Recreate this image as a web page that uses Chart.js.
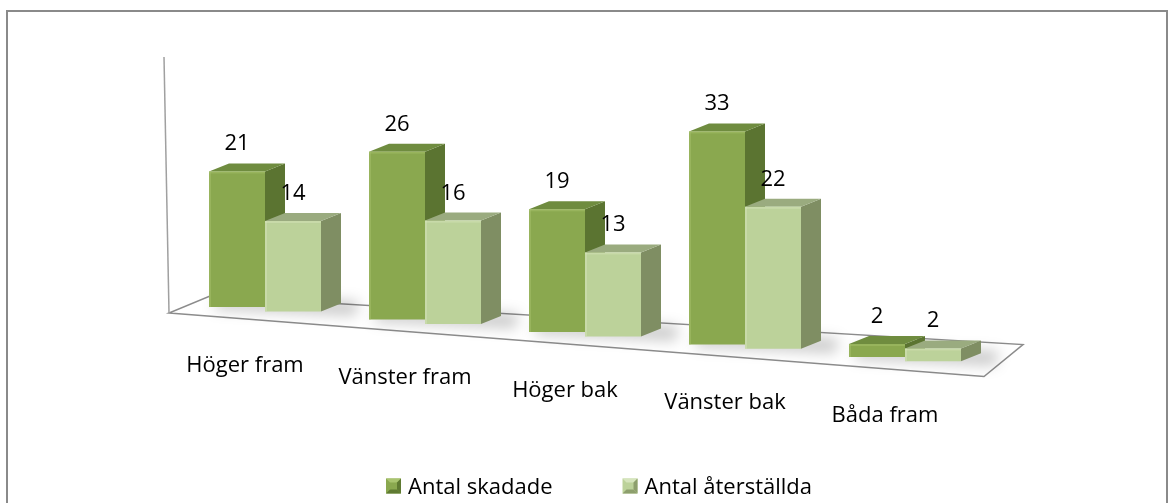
<!DOCTYPE html>
<html>
<head>
<meta charset="utf-8">
<script src="https://cdn.jsdelivr.net/npm/chart.js@4/dist/chart.umd.min.js"></script>
<style>
  html, body { margin: 0; padding: 0; background: #ffffff; }
  #wrap { position: relative; width: 1171px; height: 503px; overflow: hidden; }
</style>
</head>
<body>
<div id="wrap"><canvas id="c" width="1171" height="503"></canvas></div>
<script>
// ---- data ----
const categories = ['Höger fram', 'Vänster fram', 'Höger bak', 'Vänster bak', 'Båda fram'];
const antalSkadade = [21, 26, 19, 33, 2];
const antalAterstallda = [14, 16, 13, 22, 2];
const seriesNames = ['Antal skadade', 'Antal återställda'];
const yMax = 35;

// ---- style ----
const FONT = '"Open Sans", sans-serif';
const TEXT_SIZE = 22;
const K = 0.078;                 // perspective drop of the floor (px per px)
const DEPTH = { dx: 20, dy: -8 }; // 3D depth of each column
const palette = [
  { front: '#8aa84f', side: '#5b7431', top: '#6f8c3f', light: '#a9c46f', dark: '#5f7a32' },
  { front: '#bcd29a', side: '#7f8e63', top: '#9aab7f', light: '#d6e5bd', dark: '#8d9f6d' }
];

function poly(ctx, pts, fill) {
  ctx.beginPath();
  ctx.moveTo(pts[0][0], pts[0][1]);
  for (let i = 1; i < pts.length; i++) ctx.lineTo(pts[i][0], pts[i][1]);
  ctx.closePath();
  ctx.fillStyle = fill;
  ctx.fill();
}

const pseudo3d = {
  id: 'pseudo3d',
  beforeDatasetsDraw(chart) {
    const ctx = chart.ctx, ca = chart.chartArea;
    const L = ca.left, B = ca.bottom;
    ctx.save();
    // outer frame
    ctx.strokeStyle = '#8a8a8a';
    ctx.lineWidth = 2;
    ctx.strokeRect(7, 11, 1160, 520);

    // floor
    const fl = [L - 16, B + 10];
    const fr = [ca.right - 1, B + 10 + K * (ca.right - 1 - (L - 16))];
    const bl = [fl[0] + 41, fl[1] - 17];
    const br = [fr[0] + 39, fr[1] - 32];
    ctx.beginPath();
    ctx.moveTo(fl[0], fl[1]); ctx.lineTo(fr[0], fr[1]);
    ctx.lineTo(br[0], br[1]); ctx.lineTo(bl[0], bl[1]); ctx.closePath();
    ctx.fillStyle = '#ffffff'; ctx.fill();
    ctx.strokeStyle = '#8c8c8c'; ctx.lineWidth = 1.5; ctx.stroke();
    // wall edge
    ctx.beginPath();
    ctx.moveTo(fl[0] - 5, ca.top - 20);
    ctx.lineTo(fl[0], fl[1]);
    ctx.strokeStyle = '#a0a0a0'; ctx.lineWidth = 1.5; ctx.stroke();

    const metas = chart.getSortedVisibleDatasetMetas();
    // floor shadows
    ctx.save();
    ctx.filter = 'blur(7px)';
    for (let i = 0; i < categories.length; i++) {
      const a = metas[0].data[i].getProps(['x', 'base', 'width'], true);
      const b = metas[metas.length - 1].data[i].getProps(['x', 'base', 'width'], true);
      const x0 = a.x - a.width / 2, x1 = b.x + b.width / 2 + DEPTH.dx;
      const ya = a.base + K * (a.x - L), yb = b.base + K * (b.x - L);
      poly(ctx, [[x0 + 4, ya + 2], [x1 + 14, yb + 4], [x1 + 18, yb + DEPTH.dy - 2], [x0 + 10, ya + DEPTH.dy - 2]], 'rgba(0,0,0,0.22)');
    }
    ctx.restore();

    // columns
    for (let i = 0; i < categories.length; i++) {
      metas.forEach((meta, d) => {
        const el = meta.data[i];
        const p = el.getProps(['x', 'y', 'base', 'width'], true);
        const dy = K * (p.x - L);
        const x0 = p.x - p.width / 2, x1 = p.x + p.width / 2;
        const top = p.y + dy, bot = p.base + dy;
        const c = palette[d];
        poly(ctx, [[x1, top], [x1 + DEPTH.dx, top + DEPTH.dy], [x1 + DEPTH.dx, bot + DEPTH.dy], [x1, bot]], c.side);
        poly(ctx, [[x0, top], [x0 + DEPTH.dx, top + DEPTH.dy], [x1 + DEPTH.dx, top + DEPTH.dy], [x1, top]], c.top);
        ctx.save();
        ctx.translate(0, dy);
        el.draw(ctx, ca);
        ctx.restore();
        // soft bevel highlights
        ctx.fillStyle = c.light;
        ctx.globalAlpha = 0.45;
        ctx.fillRect(x0, top, 2, bot - top);
        ctx.fillRect(x0, top, x1 - x0, 2);
        ctx.globalAlpha = 1;
      });
    }
    ctx.restore();
    return false;
  },
  afterDraw(chart) {
    const ctx = chart.ctx, ca = chart.chartArea;
    const L = ca.left;
    const metas = chart.getSortedVisibleDatasetMetas();
    ctx.save();
    ctx.fillStyle = '#000000';
    ctx.font = TEXT_SIZE + 'px ' + FONT;
    ctx.textBaseline = 'alphabetic';
    ctx.textAlign = 'center';
    // value labels
    metas.forEach((meta) => {
      const values = chart.data.datasets[meta.index].data;
      meta.data.forEach((el, i) => {
        const p = el.getProps(['x', 'y'], true);
        const dy = K * (p.x - L);
        ctx.fillText(String(values[i]), p.x, p.y + dy - 21);
      });
    });
    // category labels
    const xs = chart.scales.x;
    categories.forEach((cat, i) => {
      const cx = xs.getPixelForValue(i) - 20;
      ctx.fillText(cat, cx, ca.bottom + K * (cx - L) + 64);
    });
    // legend
    ctx.textAlign = 'left';
    const box = 15, gap = 7, itemGap = 70;
    const w = seriesNames.map(s => ctx.measureText(s).width);
    const total = w.reduce((s, v) => s + v, 0) + seriesNames.length * (box + gap) + itemGap * (seriesNames.length - 1);
    let x = 599 - total / 2;
    const yc = 486;
    seriesNames.forEach((name, d) => {
      const c = palette[d];
      const bx = x, by = yc - box / 2;
      poly(ctx, [[bx, by], [bx + box, by], [bx + box, by + box], [bx, by + box]], c.front);
      poly(ctx, [[bx, by], [bx + box, by], [bx + box / 2, by + box / 2]], c.light);
      poly(ctx, [[bx + box, by], [bx + box, by + box], [bx + box / 2, by + box / 2]], c.dark);
      poly(ctx, [[bx, by + box], [bx + box, by + box], [bx + box / 2, by + box / 2]], c.dark);
      ctx.fillStyle = c.front;
      ctx.fillRect(bx + 4, by + 4, box - 8, box - 8);
      ctx.fillStyle = '#000000';
      ctx.fillText(name, bx + box + gap, yc + 8);
      x += box + gap + w[d] + itemGap;
    });
    ctx.restore();
  }
};

new Chart(document.getElementById('c'), {
  type: 'bar',
  data: {
    labels: categories,
    datasets: [
      { label: seriesNames[0], data: antalSkadade, backgroundColor: palette[0].front, borderWidth: 0 },
      { label: seriesNames[1], data: antalAterstallda, backgroundColor: palette[1].front, borderWidth: 0 }
    ]
  },
  options: {
    responsive: false,
    animation: false,
    devicePixelRatio: 1,
    layout: { padding: { left: 185, right: 186, top: 77, bottom: 200 } },
    datasets: { bar: { categoryPercentage: 0.7, barPercentage: 1.0 } },
    scales: {
      x: { display: false },
      y: { display: false, min: 0, max: yMax }
    },
    plugins: { legend: { display: false }, tooltip: { enabled: false } }
  },
  plugins: [pseudo3d]
});
</script>
</body>
</html>
